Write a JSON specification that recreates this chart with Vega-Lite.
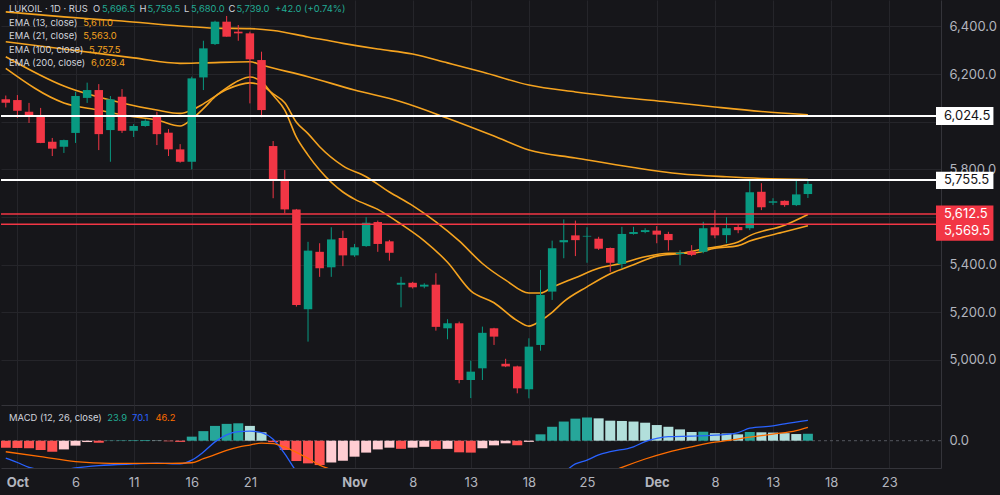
{
"$schema": "https://vega.github.io/schema/vega-lite/v6.json",
"background": "#16161a",
"padding": 0,
"spacing": 0,
"config": {
  "view": {"stroke": null},
  "font": "Inter",
  "text": {"font": "Inter"},
  "axis": {"labelFont": "Inter", "labelColor": "#b2b5be", "labelFontSize": 13, "ticks": false, "domainColor": "#34343a", "gridColor": "#25252a", "labelOverlap": false, "labelFlush": false}
},
"datasets": {
  "candles": [
    {"i":-1,"o":6094,"h":6110,"l":6060,"c":6080},
    {"i":0,"o":6091,"h":6112,"l":6016,"c":6046},
    {"i":1,"o":6042,"h":6079,"l":5995,"c":6024},
    {"i":2,"o":6028,"h":6058,"l":5910,"c":5911},
    {"i":3,"o":5916,"h":5932,"l":5856,"c":5887},
    {"i":4,"o":5895,"h":5925,"l":5869,"c":5923},
    {"i":5,"o":5953,"h":6126,"l":5911,"c":6108},
    {"i":6,"o":6100,"h":6164,"l":6079,"c":6133},
    {"i":7,"o":6133,"h":6158,"l":5881,"c":5948},
    {"i":8,"o":5965,"h":6108,"l":5832,"c":6094},
    {"i":9,"o":6105,"h":6137,"l":5953,"c":5962},
    {"i":10,"o":5962,"h":5990,"l":5936,"c":5982},
    {"i":11,"o":5982,"h":6011,"l":5979,"c":6004},
    {"i":12,"o":6024,"h":6042,"l":5902,"c":5948},
    {"i":13,"o":5954,"h":5969,"l":5856,"c":5884},
    {"i":14,"o":5884,"h":5906,"l":5828,"c":5832},
    {"i":15,"o":5832,"h":6189,"l":5800,"c":6182},
    {"i":16,"o":6186,"h":6340,"l":6133,"c":6308},
    {"i":17,"o":6326,"h":6424,"l":6322,"c":6420},
    {"i":18,"o":6420,"h":6444,"l":6357,"c":6357},
    {"i":19,"o":6378,"h":6406,"l":6340,"c":6371},
    {"i":20,"o":6371,"h":6378,"l":6077,"c":6262},
    {"i":21,"o":6259,"h":6294,"l":6019,"c":6049},
    {"i":22,"o":5898,"h":5919,"l":5679,"c":5755},
    {"i":23,"o":5755,"h":5797,"l":5616,"c":5632},
    {"i":24,"o":5632,"h":5634,"l":5224,"c":5231},
    {"i":25,"o":5213,"h":5496,"l":5077,"c":5459},
    {"i":26,"o":5454,"h":5490,"l":5349,"c":5385},
    {"i":27,"o":5389,"h":5557,"l":5349,"c":5506},
    {"i":28,"o":5512,"h":5543,"l":5394,"c":5439},
    {"i":29,"o":5439,"h":5487,"l":5433,"c":5473},
    {"i":30,"o":5478,"h":5599,"l":5475,"c":5576},
    {"i":31,"o":5579,"h":5585,"l":5454,"c":5487},
    {"i":32,"o":5498,"h":5504,"l":5417,"c":5450},
    {"i":33,"o":5316,"h":5349,"l":5221,"c":5324},
    {"i":34,"o":5324,"h":5328,"l":5300,"c":5305},
    {"i":35,"o":5308,"h":5322,"l":5301,"c":5316},
    {"i":36,"o":5316,"h":5364,"l":5123,"c":5139},
    {"i":37,"o":5133,"h":5171,"l":5087,"c":5154},
    {"i":38,"o":5154,"h":5161,"l":4902,"c":4916},
    {"i":39,"o":4916,"h":4997,"l":4840,"c":4951},
    {"i":40,"o":4965,"h":5140,"l":4916,"c":5114},
    {"i":41,"o":5133,"h":5135,"l":5063,"c":5098},
    {"i":42,"o":4984,"h":5005,"l":4970,"c":4973},
    {"i":43,"o":4973,"h":4976,"l":4860,"c":4881},
    {"i":44,"o":4877,"h":5091,"l":4839,"c":5056},
    {"i":45,"o":5063,"h":5378,"l":5039,"c":5273},
    {"i":46,"o":5287,"h":5501,"l":5252,"c":5469},
    {"i":47,"o":5494,"h":5590,"l":5427,"c":5503},
    {"i":48,"o":5523,"h":5585,"l":5436,"c":5503},
    {"i":49,"o":5518,"h":5557,"l":5408,"c":5521},
    {"i":50,"o":5509,"h":5517,"l":5462,"c":5467},
    {"i":51,"o":5470,"h":5472,"l":5370,"c":5408},
    {"i":52,"o":5403,"h":5559,"l":5385,"c":5529},
    {"i":53,"o":5529,"h":5559,"l":5526,"c":5537},
    {"i":54,"o":5537,"h":5553,"l":5532,"c":5545},
    {"i":55,"o":5543,"h":5562,"l":5490,"c":5526},
    {"i":56,"o":5529,"h":5538,"l":5459,"c":5503},
    {"i":57,"o":5445,"h":5461,"l":5398,"c":5450},
    {"i":58,"o":5456,"h":5482,"l":5436,"c":5441},
    {"i":59,"o":5454,"h":5580,"l":5448,"c":5553},
    {"i":60,"o":5557,"h":5629,"l":5511,"c":5523},
    {"i":61,"o":5524,"h":5599,"l":5490,"c":5553},
    {"i":62,"o":5558,"h":5567,"l":5532,"c":5545},
    {"i":63,"o":5553,"h":5758,"l":5545,"c":5704},
    {"i":64,"o":5706,"h":5742,"l":5629,"c":5641},
    {"i":65,"o":5660,"h":5679,"l":5650,"c":5666},
    {"i":66,"o":5668,"h":5670,"l":5643,"c":5650},
    {"i":67,"o":5650,"h":5758,"l":5646,"c":5695},
    {"i":68,"o":5696.5,"h":5759.5,"l":5680,"c":5739}
  ],
  "ema": [
    {"s":"200","i":-1,"v":6461},{"s":"200","i":4,"v":6440},{"s":"200","i":9,"v":6423},{"s":"200","i":14,"v":6402},{"s":"200","i":17,"v":6393},{"s":"200","i":20,"v":6391},{"s":"200","i":22,"v":6383},{"s":"200","i":25,"v":6356},{"s":"200","i":28,"v":6329},{"s":"200","i":31,"v":6305},{"s":"200","i":34,"v":6284},{"s":"200","i":37,"v":6247},{"s":"200","i":40,"v":6209},{"s":"200","i":44,"v":6154},{"s":"200","i":48,"v":6125},{"s":"200","i":52,"v":6102},{"s":"200","i":56,"v":6083},{"s":"200","i":60,"v":6062},{"s":"200","i":64,"v":6043},{"s":"200","i":68,"v":6029.4},
    {"s":"100","i":-1,"v":6336},{"s":"100","i":5,"v":6299},{"s":"100","i":10,"v":6268},{"s":"100","i":14,"v":6245},{"s":"100","i":16,"v":6247},{"s":"100","i":20,"v":6252},{"s":"100","i":21,"v":6238},{"s":"100","i":25,"v":6189},{"s":"100","i":29,"v":6133},{"s":"100","i":33,"v":6084},{"s":"100","i":37,"v":6015},{"s":"100","i":41,"v":5940},{"s":"100","i":44,"v":5881},{"s":"100","i":48,"v":5848},{"s":"100","i":53,"v":5808},{"s":"100","i":57,"v":5782},{"s":"100","i":61,"v":5769},{"s":"100","i":64,"v":5762},{"s":"100","i":68,"v":5757.5},
    {"s":"21","i":-1,"v":6273},{"s":"21","i":4,"v":6150},{"s":"21","i":9,"v":6079},{"s":"21","i":12,"v":6049},{"s":"21","i":14,"v":6035},{"s":"21","i":15,"v":6049},{"s":"21","i":16,"v":6075},{"s":"21","i":18,"v":6135},{"s":"21","i":20,"v":6163},{"s":"21","i":21,"v":6153},{"s":"21","i":22,"v":6117},{"s":"21","i":23,"v":6080},{"s":"21","i":24,"v":5998},{"s":"21","i":25,"v":5950},{"s":"21","i":26,"v":5895},{"s":"21","i":28,"v":5815},{"s":"21","i":30,"v":5769},{"s":"21","i":32,"v":5705},{"s":"21","i":34,"v":5648},{"s":"21","i":36,"v":5580},{"s":"21","i":38,"v":5500},{"s":"21","i":40,"v":5405},{"s":"21","i":42,"v":5335},{"s":"21","i":44,"v":5281},{"s":"21","i":45,"v":5281},{"s":"21","i":46,"v":5305},{"s":"21","i":48,"v":5345},{"s":"21","i":50,"v":5385},{"s":"21","i":52,"v":5406},{"s":"21","i":54,"v":5433},{"s":"21","i":56,"v":5448},{"s":"21","i":58,"v":5448},{"s":"21","i":60,"v":5469},{"s":"21","i":62,"v":5480},{"s":"21","i":63,"v":5499},{"s":"21","i":66,"v":5538},{"s":"21","i":68,"v":5563},
    {"s":"13","i":-1,"v":6224},{"s":"13","i":4,"v":6079},{"s":"13","i":7,"v":6049},{"s":"13","i":10,"v":6021},{"s":"13","i":12,"v":6007},{"s":"13","i":14,"v":5982},{"s":"13","i":15,"v":6011},{"s":"13","i":16,"v":6055},{"s":"13","i":17,"v":6105},{"s":"13","i":18,"v":6142},{"s":"13","i":19,"v":6172},{"s":"13","i":20,"v":6188},{"s":"13","i":21,"v":6168},{"s":"13","i":22,"v":6111},{"s":"13","i":23,"v":6049},{"s":"13","i":24,"v":5935},{"s":"13","i":25,"v":5860},{"s":"13","i":26,"v":5797},{"s":"13","i":28,"v":5705},{"s":"13","i":29,"v":5675},{"s":"13","i":31,"v":5632},{"s":"13","i":33,"v":5570},{"s":"13","i":35,"v":5500},{"s":"13","i":37,"v":5410},{"s":"13","i":39,"v":5290},{"s":"13","i":41,"v":5240},{"s":"13","i":43,"v":5165},{"s":"13","i":44,"v":5142},{"s":"13","i":45,"v":5165},{"s":"13","i":46,"v":5200},{"s":"13","i":47,"v":5245},{"s":"13","i":49,"v":5307},{"s":"13","i":51,"v":5362},{"s":"13","i":53,"v":5400},{"s":"13","i":55,"v":5436},{"s":"13","i":57,"v":5447},{"s":"13","i":59,"v":5466},{"s":"13","i":61,"v":5482},{"s":"13","i":62,"v":5495},{"s":"13","i":63,"v":5522},{"s":"13","i":66,"v":5566},{"s":"13","i":68,"v":5611}
  ],
  "levels": [
    {"p":6024.5,"k":"w"},
    {"p":5755.5,"k":"w"},
    {"p":5612.5,"k":"r"},
    {"p":5569.5,"k":"r"}
  ],
  "hist": [
    {"i":-1,"h":-24},{"i":0,"h":-25},{"i":1,"h":-26},{"i":2,"h":-32},{"i":3,"h":-38},{"i":4,"h":-30},{"i":5,"h":-17},{"i":6,"h":-4.6},{"i":7,"h":-7},{"i":8,"h":1},{"i":9,"h":1.5},{"i":10,"h":2},{"i":11,"h":2.5},{"i":12,"h":1},{"i":13,"h":-2},{"i":14,"h":-4},{"i":15,"h":14},{"i":16,"h":33},{"i":17,"h":51},{"i":18,"h":58},{"i":19,"h":60},{"i":20,"h":51},{"i":21,"h":29},{"i":22,"h":-5},{"i":23,"h":-32},{"i":24,"h":-70},{"i":25,"h":-78},{"i":26,"h":-84},{"i":27,"h":-75},{"i":28,"h":-69},{"i":29,"h":-55},{"i":30,"h":-41},{"i":31,"h":-30},{"i":32,"h":-24},{"i":33,"h":-28},{"i":34,"h":-24},{"i":35,"h":-21},{"i":36,"h":-29},{"i":37,"h":-28},{"i":38,"h":-40},{"i":39,"h":-41},{"i":40,"h":-26},{"i":41,"h":-16},{"i":42,"h":-9},{"i":43,"h":-16},{"i":44,"h":-4},{"i":45,"h":22},{"i":46,"h":48},{"i":47,"h":66},{"i":48,"h":76},{"i":49,"h":80},{"i":50,"h":77},{"i":51,"h":69},{"i":52,"h":68},{"i":53,"h":66},{"i":54,"h":62},{"i":55,"h":54},{"i":56,"h":48},{"i":57,"h":39},{"i":58,"h":30},{"i":59,"h":31},{"i":60,"h":26},{"i":61,"h":25},{"i":62,"h":22},{"i":63,"h":30},{"i":64,"h":29},{"i":65,"h":28},{"i":66,"h":26},{"i":67,"h":23},{"i":68,"h":23.9}
  ],
  "macd": [
    {"s":"macd","i":-1,"v":-60},{"s":"macd","i":0,"v":-75},{"s":"macd","i":1,"v":-92},{"s":"macd","i":2,"v":-100},{"s":"macd","i":3,"v":-104},{"s":"macd","i":4,"v":-100},{"s":"macd","i":5,"v":-94},{"s":"macd","i":7,"v":-86},{"s":"macd","i":10,"v":-80},{"s":"macd","i":12,"v":-77},{"s":"macd","i":14,"v":-80},{"s":"macd","i":15,"v":-67},{"s":"macd","i":16,"v":-39},{"s":"macd","i":17,"v":-4},{"s":"macd","i":18,"v":20},{"s":"macd","i":19,"v":31},{"s":"macd","i":20,"v":33},{"s":"macd","i":21,"v":28},{"s":"macd","i":22,"v":5},{"s":"macd","i":23,"v":-45},{"s":"macd","i":24,"v":-105},{"s":"macd","i":25,"v":-140},{"s":"macd","i":26,"v":-180},{"s":"macd","i":28,"v":-230},{"s":"macd","i":32,"v":-260},{"s":"macd","i":36,"v":-270},{"s":"macd","i":40,"v":-250},{"s":"macd","i":44,"v":-210},{"s":"macd","i":46,"v":-140},{"s":"macd","i":47,"v":-110},{"s":"macd","i":48,"v":-80},{"s":"macd","i":49,"v":-67},{"s":"macd","i":50,"v":-49},{"s":"macd","i":51,"v":-38},{"s":"macd","i":53,"v":-21},{"s":"macd","i":54,"v":-3},{"s":"macd","i":55,"v":8},{"s":"macd","i":56,"v":14},{"s":"macd","i":58,"v":16},{"s":"macd","i":61,"v":22},{"s":"macd","i":62,"v":28},{"s":"macd","i":63,"v":43},{"s":"macd","i":65,"v":51},{"s":"macd","i":66,"v":58},{"s":"macd","i":68,"v":70.1},
    {"s":"signal","i":-1,"v":-38},{"s":"signal","i":2,"v":-55},{"s":"signal","i":5,"v":-72},{"s":"signal","i":8,"v":-78},{"s":"signal","i":13,"v":-78},{"s":"signal","i":15,"v":-76},{"s":"signal","i":16,"v":-62},{"s":"signal","i":17,"v":-48},{"s":"signal","i":18,"v":-33},{"s":"signal","i":19,"v":-22},{"s":"signal","i":20,"v":-15},{"s":"signal","i":21,"v":-8},{"s":"signal","i":22,"v":-10},{"s":"signal","i":23,"v":-22},{"s":"signal","i":24,"v":-40},{"s":"signal","i":25,"v":-61},{"s":"signal","i":26,"v":-84},{"s":"signal","i":27,"v":-100},{"s":"signal","i":30,"v":-150},{"s":"signal","i":35,"v":-200},{"s":"signal","i":40,"v":-220},{"s":"signal","i":44,"v":-215},{"s":"signal","i":46,"v":-195},{"s":"signal","i":48,"v":-165},{"s":"signal","i":50,"v":-125},{"s":"signal","i":52,"v":-92},{"s":"signal","i":54,"v":-63},{"s":"signal","i":56,"v":-39},{"s":"signal","i":58,"v":-21},{"s":"signal","i":60,"v":-5},{"s":"signal","i":61,"v":0},{"s":"signal","i":63,"v":12},{"s":"signal","i":65,"v":23},{"s":"signal","i":67,"v":35},{"s":"signal","i":68,"v":46.2}
  ]
},
"vconcat": [
  {
    "width": 940,
    "height": 405,
    "encoding": {
      "x": {"type": "quantitative", "scale": {"domain": [-0.98, 79.02], "nice": false, "zero": false},
            "axis": {"orient": "bottom", "values": [0,5,10,15,20,29,34,39,44,49,55,60,65,70,75], "labels": false, "ticks": false, "domain": true, "grid": true, "title": null}},
      "y": {"type": "quantitative", "scale": {"domain": [4811, 6511], "nice": false, "zero": false},
            "axis": {"orient": "right", "values": [5000,5200,5400,5600,5800,6000,6200,6400], "labelExpr": "datum.value==6000||datum.value==5600 ? '' : format(datum.value, ',.1f')", "labelPadding": 8, "grid": true, "domain": true, "title": null, "minExtent": 60}}
    },
    "layer": [
      {
        "data": {"name": "ema"},
        "mark": {"type": "line", "clip": true, "strokeWidth": 1.6, "color": "#f5a31f", "interpolate": "monotone"},
        "encoding": {"x": {"field": "i"}, "y": {"field": "v"}, "detail": {"field": "s"}}
      },
      {
        "data": {"name": "candles"},
        "mark": {"type": "rule", "clip": true, "strokeWidth": 1},
        "encoding": {"x": {"field": "i"}, "y": {"field": "l"}, "y2": {"field": "h"},
          "color": {"condition": {"test": "datum.c >= datum.o", "value": "#089981"}, "value": "#f23645"}}
      },
      {
        "data": {"name": "candles"},
        "mark": {"type": "bar", "clip": true, "width": 8.5},
        "encoding": {"x": {"field": "i"}, "y": {"field": "o"}, "y2": {"field": "c"},
          "color": {"condition": {"test": "datum.c >= datum.o", "value": "#089981"}, "value": "#f23645"}}
      },
      {
        "data": {"name": "levels"},
        "mark": {"type": "rule"},
        "encoding": {"y": {"field": "p"},
          "color": {"condition": {"test": "datum.k == 'w'", "value": "#ffffff"}, "value": "#f23645"},
          "strokeWidth": {"condition": {"test": "datum.k == 'w'", "value": 2}, "value": 1.6}}
      },
      {
        "data": {"values": [{"b": 1}]},
        "mark": {"type": "rect", "color": "#ffffff"},
        "encoding": {"x": {"datum": 79.02}, "x2": {"datum": 83.96}, "y": {"datum": 6061.8}, "y2": {"datum": 5986.3}}
      },
      {
        "data": {"values": [{"b": 1}]},
        "mark": {"type": "rect", "color": "#ffffff"},
        "encoding": {"x": {"datum": 79.02}, "x2": {"datum": 83.96}, "y": {"datum": 5790}, "y2": {"datum": 5718}}
      },
      {
        "data": {"values": [{"b": 1}]},
        "mark": {"type": "rect", "color": "#f23645"},
        "encoding": {"x": {"datum": 79.02}, "x2": {"datum": 83.96}, "y": {"datum": 5648}, "y2": {"datum": 5500}}
      },
      {
        "data": {"values": [{"t": "6,024.5", "p": 6024.5}, {"t": "5,755.5", "p": 5755.5}]},
        "mark": {"type": "text", "align": "left", "baseline": "middle", "fontSize": 13, "color": "#131316"},
        "encoding": {"x": {"datum": 79.7}, "y": {"field": "p"}, "text": {"field": "t"}}
      },
      {
        "data": {"values": [{"t": "5,612.5"}]},
        "mark": {"type": "text", "align": "left", "baseline": "middle", "fontSize": 13, "color": "#ffffff"},
        "encoding": {"x": {"datum": 79.7}, "y": {"datum": 5613}, "text": {"field": "t"}}
      },
      {
        "data": {"values": [{"t": "5,569.5"}]},
        "mark": {"type": "text", "align": "left", "baseline": "middle", "fontSize": 13, "color": "#ffffff"},
        "encoding": {"x": {"datum": 79.7}, "y": {"datum": 5541}, "text": {"field": "t"}}
      },
      {
        "data": {"values": [{"t": "LUKOIL · 1D · RUS"}]},
        "mark": {"type": "text", "align": "left", "baseline": "middle", "fontSize": 9.4, "color": "#d1d4dc"},
        "encoding": {"x": {"datum": -0.72}, "y": {"datum": 6475}, "text": {"field": "t"}}
      },
      {
        "data": {"values": [{"t": "O", "x": 6.51}, {"t": "H", "x": 10.51}, {"t": "L", "x": 14.34}, {"t": "C", "x": 18.17}]},
        "mark": {"type": "text", "align": "left", "baseline": "middle", "fontSize": 9.4, "color": "#d1d4dc"},
        "encoding": {"x": {"field": "x"}, "y": {"datum": 6475}, "text": {"field": "t"}}
      },
      {
        "data": {"values": [{"t": "5,696.5", "x": 7.28}, {"t": "5,759.5", "x": 11.19}, {"t": "5,680.0", "x": 14.94}, {"t": "5,739.0", "x": 18.85}, {"t": "+42.0 (+0.74%)", "x": 22.17}]},
        "mark": {"type": "text", "align": "left", "baseline": "middle", "fontSize": 9.4, "color": "#22ab94"},
        "encoding": {"x": {"field": "x"}, "y": {"datum": 6475}, "text": {"field": "t"}}
      },
      {
        "data": {"values": [{"t": "EMA (13, close)", "y": 6414}, {"t": "EMA (21, close)", "y": 6358.6}, {"t": "EMA (100, close)", "y": 6302.4}, {"t": "EMA (200, close)", "y": 6246.5}]},
        "mark": {"type": "text", "align": "left", "baseline": "middle", "fontSize": 9.4, "color": "#d1d4dc"},
        "encoding": {"x": {"datum": -0.72}, "y": {"field": "y"}, "text": {"field": "t"}}
      },
      {
        "data": {"values": [{"t": "5,611.0", "x": 5.66, "y": 6414}, {"t": "5,563.0", "x": 5.66, "y": 6358.6}, {"t": "5,757.5", "x": 6.17, "y": 6302.4}, {"t": "6,029.4", "x": 6.34, "y": 6246.5}]},
        "mark": {"type": "text", "align": "left", "baseline": "middle", "fontSize": 9.4, "color": "#f5a31f"},
        "encoding": {"x": {"field": "x"}, "y": {"field": "y"}, "text": {"field": "t"}}
      }
    ]
  },
  {
    "width": 940,
    "height": 63,
    "encoding": {
      "x": {"type": "quantitative", "scale": {"domain": [-0.98, 79.02], "nice": false, "zero": false},
            "axis": {"orient": "bottom", "values": [0,5,10,15,20,29,34,39,44,49,55,60,65,70,75],
                     "labelExpr": "['Oct','6','11','16','21','Nov','8','13','18','25','Dec','8','13','18','23'][indexof([0,5,10,15,20,29,34,39,44,49,55,60,65,70,75], datum.value)]",
                     "labelFontWeight": {"condition": {"test": "datum.value==0||datum.value==29||datum.value==55", "value": "bold"}, "value": "normal"},
                     "labelPadding": 8, "ticks": false, "domain": true, "grid": true, "title": null, "minExtent": 27}},
      "y": {"type": "quantitative", "scale": {"domain": [-94, 123], "nice": false, "zero": false},
            "axis": {"orient": "right", "values": [0], "labelExpr": "'0.0'", "labelPadding": 8, "grid": false, "domain": true, "title": null, "minExtent": 60}}
    },
    "layer": [
      {
        "data": {"values": [{"z": 0}]},
        "mark": {"type": "rule", "strokeDash": [3, 3], "color": "#55575f", "strokeWidth": 1},
        "encoding": {"y": {"datum": 0}}
      },
      {
        "data": {"name": "hist"},
        "transform": [{"window": [{"op": "lag", "field": "h", "as": "p"}], "sort": [{"field": "i"}]}],
        "mark": {"type": "bar", "clip": true, "width": 10},
        "encoding": {"x": {"field": "i"}, "y": {"field": "h"}, "y2": {"datum": 0},
          "color": {"condition": [
            {"test": "datum.h >= 0 && datum.p != null && datum.h >= datum.p", "value": "#26a69a"},
            {"test": "datum.h >= 0", "value": "#b2dfdb"},
            {"test": "datum.p == null || datum.h < datum.p", "value": "#ff5252"}
          ], "value": "#ffcdd2"}}
      },
      {
        "data": {"name": "macd"},
        "mark": {"type": "line", "clip": true, "strokeWidth": 1.3, "interpolate": "monotone"},
        "encoding": {"x": {"field": "i"}, "y": {"field": "v"}, "detail": {"field": "s"},
          "color": {"condition": {"test": "datum.s == 'macd'", "value": "#2962ff"}, "value": "#ff6d00"}}
      },
      {
        "data": {"values": [{"t": "MACD (12, 26, close)"}]},
        "mark": {"type": "text", "align": "left", "baseline": "middle", "fontSize": 9.4, "color": "#d1d4dc"},
        "encoding": {"x": {"datum": -0.72}, "y": {"datum": 78}, "text": {"field": "t"}}
      },
      {
        "data": {"values": [{"t": "23.9", "x": 7.73, "s": "h"}, {"t": "70.1", "x": 9.86, "s": "m"}, {"t": "46.2", "x": 11.87, "s": "g"}]},
        "mark": {"type": "text", "align": "left", "baseline": "middle", "fontSize": 9.4},
        "encoding": {"x": {"field": "x"}, "y": {"datum": 78}, "text": {"field": "t"},
          "color": {"condition": [{"test": "datum.s == 'h'", "value": "#22ab94"}, {"test": "datum.s == 'm'", "value": "#2962ff"}], "value": "#ff6d00"}}
      }
    ]
  }
]
}
